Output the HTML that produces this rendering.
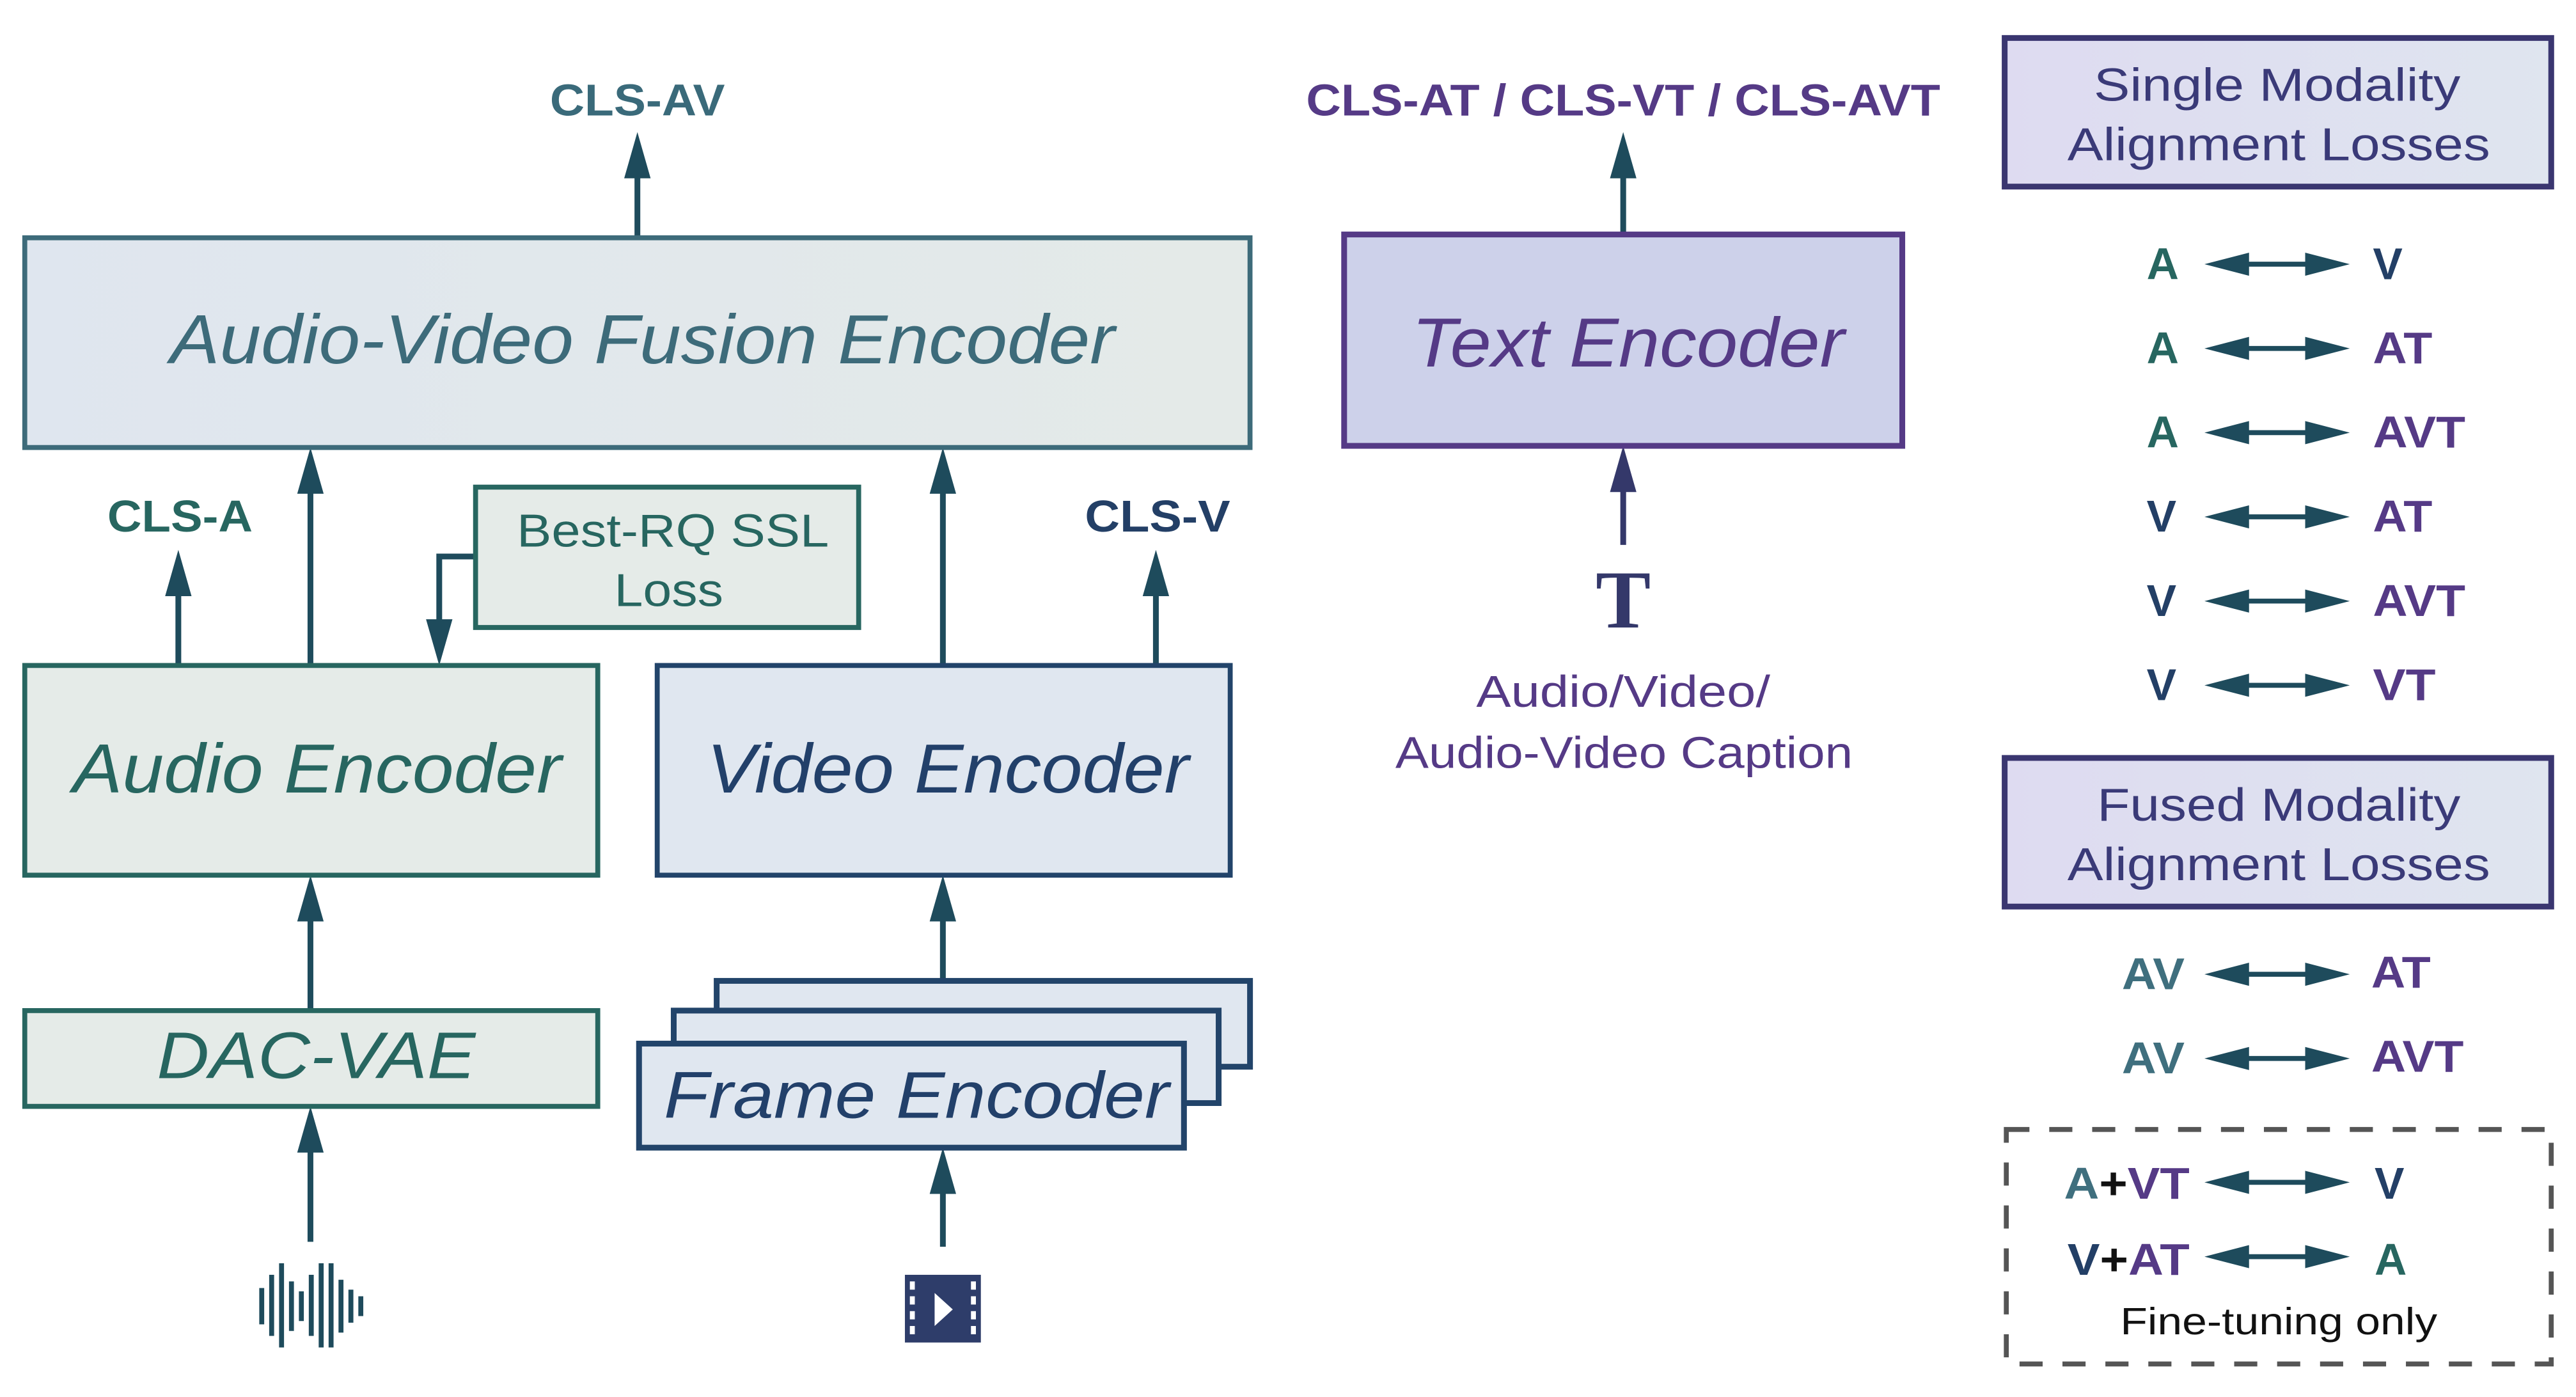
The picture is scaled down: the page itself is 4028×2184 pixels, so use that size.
<!DOCTYPE html>
<html><head><meta charset="utf-8"><style>
html,body{margin:0;padding:0;background:#fff;}
svg{display:block;}
text{font-family:"Liberation Sans",sans-serif;}
</style></head><body>
<svg width="4028" height="2184" viewBox="0 0 1560 846" preserveAspectRatio="none" xmlns="http://www.w3.org/2000/svg">
<defs>
<linearGradient id="g1" x1="0" x2="1"><stop offset="0" stop-color="#dfe6ef"/><stop offset="1" stop-color="#e4eae8"/></linearGradient>
<linearGradient id="g2" x1="0" x2="1"><stop offset="0" stop-color="#dedbf1"/><stop offset="1" stop-color="#dfe5ef"/></linearGradient>
</defs>
<g stroke="#1e4b5c" stroke-width="3.5" fill="#1e4b5c">
<line x1="386" y1="144" x2="386" y2="100"/><polygon points="386,80 378,108 394,108" stroke="none"/>
<line x1="108" y1="403" x2="108" y2="355"/><polygon points="108,333 100,361 116,361" stroke="none"/>
<line x1="188" y1="403" x2="188" y2="295"/><polygon points="188,271 180,299 196,299" stroke="none"/>
<line x1="571" y1="403" x2="571" y2="295"/><polygon points="571,271 563,299 579,299" stroke="none"/>
<line x1="700" y1="403" x2="700" y2="355"/><polygon points="700,333 692,361 708,361" stroke="none"/>
<line x1="188" y1="612" x2="188" y2="555"/><polygon points="188,530 180,558 196,558" stroke="none"/>
<line x1="188" y1="752" x2="188" y2="695"/><polygon points="188,670 180,698 196,698" stroke="none"/>
<line x1="571" y1="595" x2="571" y2="555"/><polygon points="571,530 563,558 579,558" stroke="none"/>
<line x1="571" y1="755" x2="571" y2="718"/><polygon points="571,695 563,723 579,723" stroke="none"/>
<line x1="983" y1="142" x2="983" y2="100"/><polygon points="983,80 975,108 991,108" stroke="none"/>
<polyline points="288,337 266,337 266,385" fill="none"/><polygon points="266,403 258,375 274,375" stroke="none"/>
</g>
<g stroke="#34386a" stroke-width="3.5" fill="#34386a">
<line x1="983" y1="330" x2="983" y2="290"/><polygon points="983,270 975,298 991,298" stroke="none"/>
</g>
<rect x="15" y="144" width="742" height="127" fill="url(#g1)" stroke="#3d6b7a" stroke-width="3"/>
<text x="103" y="220" font-size="42" font-style="italic" fill="#3d6b7a" textLength="572" lengthAdjust="spacingAndGlyphs">Audio-Video Fusion Encoder</text>
<rect x="288" y="295" width="232" height="85" fill="#e5ebe8" stroke="#276660" stroke-width="3"/>
<text x="313" y="331" font-size="28" fill="#276660" textLength="189" lengthAdjust="spacingAndGlyphs">Best-RQ SSL</text>
<text x="372" y="367" font-size="28" fill="#276660" textLength="66" lengthAdjust="spacingAndGlyphs">Loss</text>
<rect x="15" y="403" width="347" height="127" fill="#e5ebe8" stroke="#276660" stroke-width="3"/>
<text x="44" y="480" font-size="42" font-style="italic" fill="#276660" textLength="296" lengthAdjust="spacingAndGlyphs">Audio Encoder</text>
<rect x="398" y="403" width="347" height="127" fill="#e0e7f0" stroke="#22446a" stroke-width="3"/>
<text x="428" y="480" font-size="42" font-style="italic" fill="#22406a" textLength="292" lengthAdjust="spacingAndGlyphs">Video Encoder</text>
<rect x="15" y="612" width="347" height="58" fill="#e5ebe8" stroke="#276660" stroke-width="3"/>
<text x="95" y="653" font-size="40" font-style="italic" fill="#276660" textLength="193" lengthAdjust="spacingAndGlyphs">DAC-VAE</text>
<rect x="434" y="594" width="323" height="52" fill="#e0e7f0" stroke="#22446a" stroke-width="3.5"/>
<rect x="408" y="612" width="330" height="56" fill="#e0e7f0" stroke="#22446a" stroke-width="3.5"/>
<rect x="387" y="632" width="330" height="63" fill="#e0e7f0" stroke="#22446a" stroke-width="3.5"/>
<text x="402" y="677" font-size="40" font-style="italic" fill="#22406a" textLength="306" lengthAdjust="spacingAndGlyphs">Frame Encoder</text>
<rect x="814" y="142" width="338" height="128" fill="#cdd1ea" stroke="#553a86" stroke-width="3.5"/>
<text x="855" y="222" font-size="42" font-style="italic" fill="#553a86" textLength="262" lengthAdjust="spacingAndGlyphs">Text Encoder</text>
<g font-weight="bold" font-size="27">
<text x="333" y="70" fill="#3a6a7a" textLength="106" lengthAdjust="spacingAndGlyphs">CLS-AV</text>
<text x="65" y="322" fill="#276660" textLength="88" lengthAdjust="spacingAndGlyphs">CLS-A</text>
<text x="657" y="322" fill="#233f66" textLength="88" lengthAdjust="spacingAndGlyphs">CLS-V</text>
<text x="791" y="70" fill="#553a86" textLength="384" lengthAdjust="spacingAndGlyphs">CLS-AT / CLS-VT / CLS-AVT</text>
</g>
<text x="983" y="380" font-size="50" font-weight="bold" fill="#34386a" text-anchor="middle" style="font-family:'Liberation Serif',serif">T</text>
<text x="894" y="428" font-size="27" fill="#553a86" textLength="178" lengthAdjust="spacingAndGlyphs">Audio/Video/</text>
<text x="845" y="465" font-size="27" fill="#553a86" textLength="277" lengthAdjust="spacingAndGlyphs">Audio-Video Caption</text>
<g fill="#1e4b5c">
<rect x="157" y="780" width="3" height="22"/><rect x="163" y="772" width="3" height="37"/>
<rect x="169" y="765" width="3" height="51"/><rect x="175" y="776" width="3" height="30"/>
<rect x="181" y="782" width="3" height="18"/><rect x="187" y="772" width="3" height="37"/>
<rect x="193" y="765" width="3" height="51"/><rect x="199" y="765" width="3" height="51"/>
<rect x="205" y="775" width="3" height="32"/><rect x="211" y="781" width="3" height="20"/>
<rect x="217" y="785" width="3" height="12"/>
</g>
<rect x="548" y="772" width="46" height="41" fill="#2e3d6a"/>
<g fill="#fff">
<rect x="551" y="776" width="3" height="5"/><rect x="551" y="785" width="3" height="5"/><rect x="551" y="794" width="3" height="5"/><rect x="551" y="803" width="3" height="5"/>
<rect x="588" y="776" width="3" height="5"/><rect x="588" y="785" width="3" height="5"/><rect x="588" y="794" width="3" height="5"/><rect x="588" y="803" width="3" height="5"/>
<polygon points="566,783 566,803 577,793"/>
</g>
<rect x="1214" y="23" width="331" height="90" fill="url(#g2)" stroke="#3a3670" stroke-width="3.5"/>
<text x="1268" y="61" font-size="28" fill="#3a3a78" textLength="222" lengthAdjust="spacingAndGlyphs">Single Modality</text>
<text x="1252" y="97" font-size="28" fill="#3a3a78" textLength="256" lengthAdjust="spacingAndGlyphs">Alignment Losses</text>
<rect x="1214" y="459" width="331" height="90" fill="url(#g2)" stroke="#3a3670" stroke-width="3.5"/>
<text x="1270" y="497" font-size="28" fill="#3a3a78" textLength="220" lengthAdjust="spacingAndGlyphs">Fused Modality</text>
<text x="1252" y="533" font-size="28" fill="#3a3a78" textLength="256" lengthAdjust="spacingAndGlyphs">Alignment Losses</text>
<rect x="1215" y="684" width="330" height="142" fill="none" stroke="#555" stroke-width="3" stroke-dasharray="14,12"/>
<g stroke="#1e4b5c" stroke-width="3" fill="#1e4b5c">
<line x1="1355" y1="160" x2="1405" y2="160"/><polygon points="1335,160 1362,153 1362,167" stroke="none"/><polygon points="1423,160 1396,153 1396,167" stroke="none"/>
<line x1="1355" y1="211" x2="1405" y2="211"/><polygon points="1335,211 1362,204 1362,218" stroke="none"/><polygon points="1423,211 1396,204 1396,218" stroke="none"/>
<line x1="1355" y1="262" x2="1405" y2="262"/><polygon points="1335,262 1362,255 1362,269" stroke="none"/><polygon points="1423,262 1396,255 1396,269" stroke="none"/>
<line x1="1355" y1="313" x2="1405" y2="313"/><polygon points="1335,313 1362,306 1362,320" stroke="none"/><polygon points="1423,313 1396,306 1396,320" stroke="none"/>
<line x1="1355" y1="364" x2="1405" y2="364"/><polygon points="1335,364 1362,357 1362,371" stroke="none"/><polygon points="1423,364 1396,357 1396,371" stroke="none"/>
<line x1="1355" y1="415" x2="1405" y2="415"/><polygon points="1335,415 1362,408 1362,422" stroke="none"/><polygon points="1423,415 1396,408 1396,422" stroke="none"/>
<line x1="1355" y1="590" x2="1405" y2="590"/><polygon points="1335,590 1362,583 1362,597" stroke="none"/><polygon points="1423,590 1396,583 1396,597" stroke="none"/>
<line x1="1355" y1="641" x2="1405" y2="641"/><polygon points="1335,641 1362,634 1362,648" stroke="none"/><polygon points="1423,641 1396,634 1396,648" stroke="none"/>
<line x1="1355" y1="716" x2="1405" y2="716"/><polygon points="1335,716 1362,709 1362,723" stroke="none"/><polygon points="1423,716 1396,709 1396,723" stroke="none"/>
<line x1="1355" y1="761" x2="1405" y2="761"/><polygon points="1335,761 1362,754 1362,768" stroke="none"/><polygon points="1423,761 1396,754 1396,768" stroke="none"/>
</g>
<g font-size="27" font-weight="bold">
<text x="1300" y="169" fill="#276660">A</text><text x="1437" y="169" fill="#233f66">V</text>
<text x="1300" y="220" fill="#276660">A</text><text x="1437" y="220" fill="#553a86" textLength="36" lengthAdjust="spacingAndGlyphs">AT</text>
<text x="1300" y="271" fill="#276660">A</text><text x="1437" y="271" fill="#553a86" textLength="56" lengthAdjust="spacingAndGlyphs">AVT</text>
<text x="1300" y="322" fill="#233f66">V</text><text x="1437" y="322" fill="#553a86" textLength="36" lengthAdjust="spacingAndGlyphs">AT</text>
<text x="1300" y="373" fill="#233f66">V</text><text x="1437" y="373" fill="#553a86" textLength="56" lengthAdjust="spacingAndGlyphs">AVT</text>
<text x="1300" y="424" fill="#233f66">V</text><text x="1437" y="424" fill="#553a86" textLength="38" lengthAdjust="spacingAndGlyphs">VT</text>
<text x="1285" y="599" fill="#3f6f7e" textLength="38" lengthAdjust="spacingAndGlyphs">AV</text><text x="1436" y="598" fill="#553a86" textLength="36" lengthAdjust="spacingAndGlyphs">AT</text>
<text x="1285" y="650" fill="#3f6f7e" textLength="38" lengthAdjust="spacingAndGlyphs">AV</text><text x="1436" y="649" fill="#553a86" textLength="56" lengthAdjust="spacingAndGlyphs">AVT</text>
<text x="1250" y="726" textLength="76" lengthAdjust="spacingAndGlyphs"><tspan fill="#3f6f7e">A</tspan><tspan fill="#111">+</tspan><tspan fill="#553a86">VT</tspan></text>
<text x="1438" y="726" fill="#233f66">V</text>
<text x="1252" y="772" textLength="74" lengthAdjust="spacingAndGlyphs"><tspan fill="#233f66">V</tspan><tspan fill="#111">+</tspan><tspan fill="#553a86">AT</tspan></text>
<text x="1438" y="772" fill="#276660">A</text>
</g>
<text x="1284" y="808" font-size="23" fill="#111" textLength="192" lengthAdjust="spacingAndGlyphs">Fine-tuning only</text>
</svg>
</body></html>
